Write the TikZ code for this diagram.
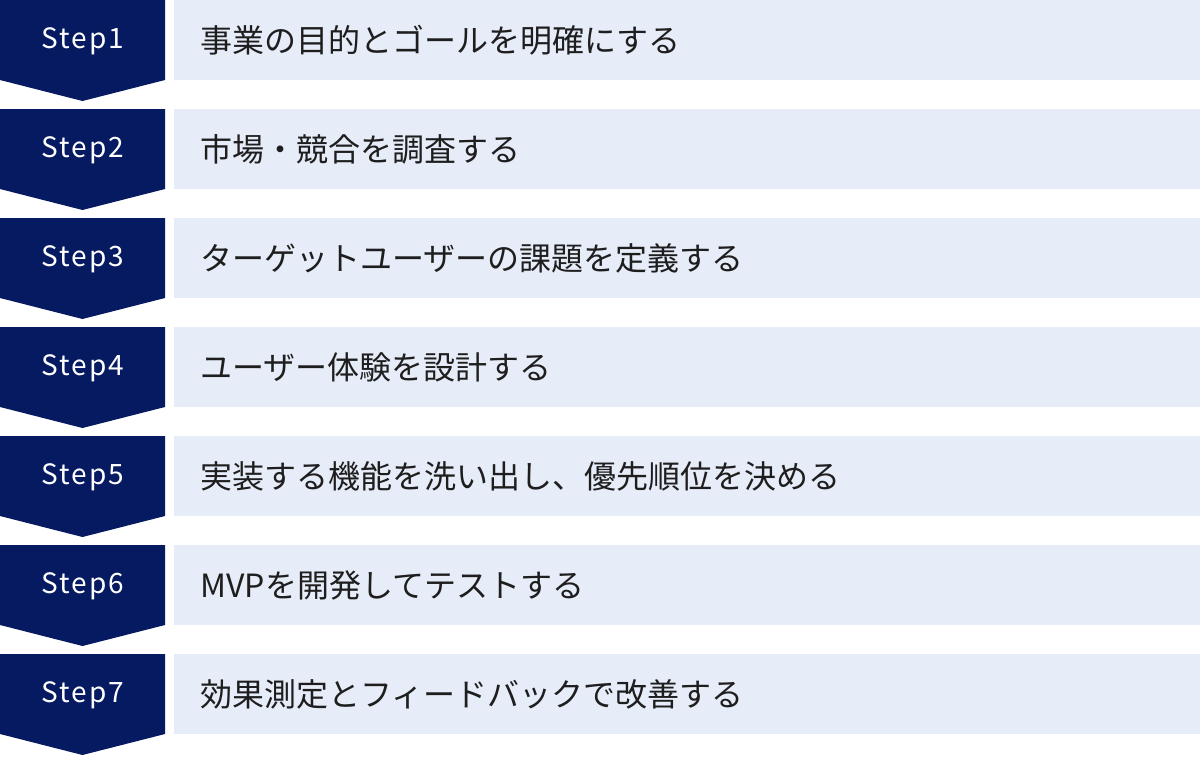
\documentclass[tikz,border=0pt]{standalone}
\usepackage{fontspec}
\setmainfont{Noto Sans}
\newfontfamily\jpfont{Noto Sans CJK JP}
\newfontfamily\stepfont[LetterSpace=7]{Noto Sans CJK JP}
\usetikzlibrary{positioning}
\definecolor{navy}{HTML}{061A61}
\definecolor{paleblue}{HTML}{E6ECF8}
\definecolor{inktext}{HTML}{1E1E1E}
\tikzset{
  steplabel/.style={text=white, anchor=base, font=\stepfont\fontsize{14}{16}\selectfont, inner sep=0pt},
  taskbox/.style={fill=paleblue, anchor=north west, minimum width=513pt, minimum height=40pt,
    text width=500pt, inner xsep=13pt, inner ysep=0pt, align=left, text=inktext,
    font=\jpfont\fontsize{16}{18}\selectfont}
}
\begin{document}
\begin{tikzpicture}[x=0.5pt,y=-0.5pt]

            % Rahmen
            \useasboundingbox (0,0) rectangle (1200,756);

            % Pfeile links
            \fill[navy] (0,0) -- (165,0) -- (165,80) -- (82.5,101) -- (0,80) -- cycle; % Step 1
            \fill[navy] (0,109) -- (165,109) -- (165,189) -- (82.5,210) -- (0,189) -- cycle; % Step 2
            \fill[navy] (0,218) -- (165,218) -- (165,298) -- (82.5,319) -- (0,298) -- cycle; % Step 3
            \fill[navy] (0,327) -- (165,327) -- (165,407) -- (82.5,428) -- (0,407) -- cycle; % Step 4
            \fill[navy] (0,436) -- (165,436) -- (165,516) -- (82.5,537) -- (0,516) -- cycle; % Step 5
            \fill[navy] (0,545) -- (165,545) -- (165,625) -- (82.5,646) -- (0,625) -- cycle; % Step 6
            \fill[navy] (0,654) -- (165,654) -- (165,734) -- (82.5,755) -- (0,734) -- cycle; % Step 7

            % Beschriftung der Pfeile
            \node[steplabel] (s1) at (83,48) {Step1};
            \node[steplabel] (s2) at (83,157) {Step2};
            \node[steplabel] (s3) at (83,266) {Step3};
            \node[steplabel] (s4) at (83,375) {Step4};
            \node[steplabel] (s5) at (83,484) {Step5};
            \node[steplabel] (s6) at (83,593) {Step6};
            \node[steplabel] (s7) at (83,702) {Step7};

            % Aufgaben rechts
            \node[taskbox] (b1) at (174,0) {事業の目的とゴールを明確にする};
            \node[taskbox] (b2) at (174,109) {市場・競合を調査する};
            \node[taskbox] (b3) at (174,218) {ターゲットユーザーの課題を定義する};
            \node[taskbox] (b4) at (174,327) {ユーザー体験を設計する};
            \node[taskbox] (b5) at (174,436) {実装する機能を洗い出し、優先順位を決める};
            \node[taskbox] (b6) at (174,545) {MVPを開発してテストする};
            \node[taskbox] (b7) at (174,654) {効果測定とフィードバックで改善する};

\end{tikzpicture}
\end{document}
